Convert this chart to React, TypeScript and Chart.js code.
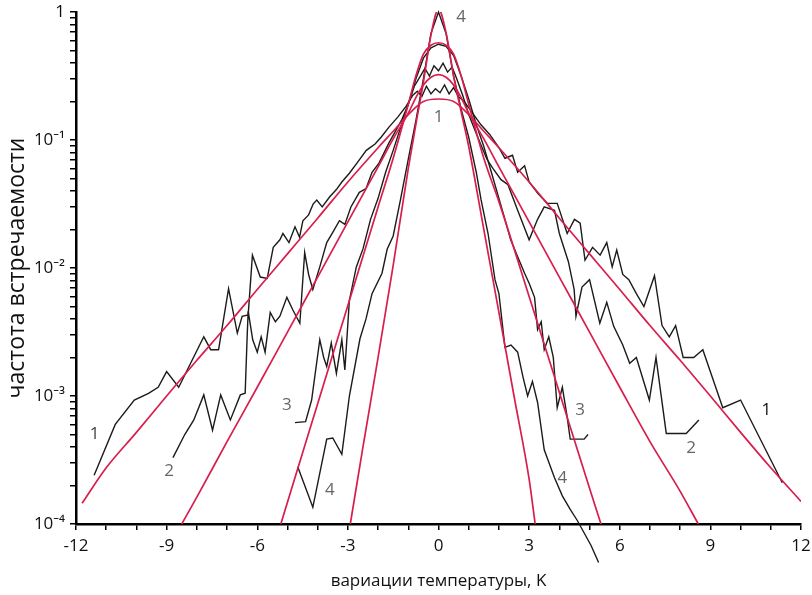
import React, { useEffect, useRef } from 'react';
import { Chart, registerables } from 'chart.js';

Chart.register(...registerables);

// ---- axis ticks ----
const xTickValues = [-12, -11, -10, -9, -8, -7, -6, -5, -4, -3, -2, -1, 0, 1, 2, 3, 4, 5, 6, 7, 8, 9, 10, 11, 12];
const xLabelValues = [-12, -9, -6, -3, 0, 3, 6, 9, 12];
const xLabelTexts = ['-12', '-9', '-6', '-3', '0', '3', '6', '9', '12'];
const yDecades = [1e-4, 1e-3, 1e-2, 1e-1];
const yMultipliers = [1, 2, 3, 4, 5, 6, 7, 8, 9];
const yLabelValues = [1e-4, 1e-3, 1e-2, 1e-1, 1];
const yLabelTexts = ['10⁻⁴', '10⁻³', '10⁻²', '10⁻¹', '1'];

// ---- fitted (red) curves ----
const red1X = [-11.8, -11, -10, -9, -8, -7, -6, -5, -4, -3, -2, -1.5, -1, -0.5, 0, 0.5, 1, 1.5, 2, 3, 4, 5, 6, 7, 8, 9, 10, 11, 12];
const red1Y = [1.45e-4, 2.75e-4, 5.2e-4, 1.0e-3, 1.9e-3, 3.55e-3, 6.8e-3, 0.0129, 0.0245, 0.047, 0.087, 0.117, 0.158, 0.2, 0.209, 0.2, 0.158, 0.117, 0.087, 0.047, 0.0245, 0.0129, 6.8e-3, 3.55e-3, 1.9e-3, 1.0e-3, 5.2e-4, 2.75e-4, 1.5e-4];

const red2X = [-8.5, -8, -7, -6, -5, -4, -3, -2, -1.5, -1, -0.75, -0.5, -0.25, 0, 0.25, 0.5, 0.75, 1, 1.5, 2, 3, 4, 5, 6, 7, 8, 8.6];
const red2Y = [1.0e-4, 1.62e-4, 4.4e-4, 1.17e-3, 3.16e-3, 8.5e-3, 0.0229, 0.0617, 0.102, 0.162, 0.214, 0.269, 0.309, 0.324, 0.309, 0.269, 0.214, 0.162, 0.102, 0.0617, 0.0229, 8.5e-3, 3.16e-3, 1.17e-3, 4.4e-4, 1.8e-4, 1.0e-4];

const red3X = [-5.22, -5, -4, -3, -2, -1.5, -1, -0.75, -0.5, -0.25, 0, 0.25, 0.5, 0.75, 1, 1.5, 2, 3, 4, 5, 5.38];
const red3Y = [1.0e-4, 1.48e-4, 8.7e-4, 5.1e-3, 0.030, 0.072, 0.19, 0.316, 0.468, 0.55, 0.575, 0.55, 0.468, 0.316, 0.19, 0.072, 0.033, 6.0e-3, 1.07e-3, 1.9e-4, 1.0e-4];

const red4X = [-2.92, -2.5, -2, -1.5, -1, -0.75, -0.5, -0.25, 0, 0.25, 0.5, 0.75, 1, 1.5, 2, 2.5, 3, 3.2];
const red4Y = [1.0e-4, 4.0e-4, 2.0e-3, 0.0105, 0.060, 0.132, 0.282, 0.66, 1.05, 0.69, 0.316, 0.166, 0.089, 0.020, 4.5e-3, 1.0e-3, 2.24e-4, 1.0e-4];

// ---- measured (black) curves ----
const black1X = [-11.4, -10.7, -10.07, -9.6, -9.28, -9.0, -8.6, -7.77, -7.54, -7.28, -6.95, -6.66, -6.5, -6.3, -6.16, -5.9, -5.67, -5.47, -5.25, -5.15, -4.95, -4.75, -4.6, -4.49, -4.3, -4.15, -4.03, -3.85, -3.6, -3.38, -3.2, -2.95, -2.7, -2.39, -2.1, -1.9, -1.64, -1.35, -1.08, -0.85, -0.7, -0.55, -0.4, -0.25, -0.1, 0.05, 0.2, 0.35, 0.5, 0.65, 0.85, 1.1, 1.4, 1.7, 2.0, 2.2, 2.45, 2.62, 2.85, 3.0, 3.3, 3.6, 3.93, 4.26, 4.5, 4.69, 4.85, 5.1, 5.35, 5.57, 5.75, 5.9, 6.1, 6.3, 6.55, 6.8, 7.15, 7.4, 7.64, 7.85, 8.1, 8.45, 8.75, 9.41, 10.0, 11.38];
const black1Y = [2.4e-4, 6.0e-4, 9.3e-4, 1.05e-3, 1.17e-3, 1.55e-3, 1.17e-3, 2.9e-3, 2.3e-3, 2.3e-3, 6.9e-3, 3.1e-3, 4.2e-3, 4.3e-3, 0.0126, 8.5e-3, 8.3e-3, 0.0145, 0.0166, 0.0186, 0.0158, 0.021, 0.0174, 0.0234, 0.026, 0.0316, 0.034, 0.030, 0.036, 0.041, 0.047, 0.055, 0.066, 0.083, 0.093, 0.105, 0.126, 0.151, 0.182, 0.224, 0.24, 0.219, 0.263, 0.229, 0.251, 0.234, 0.269, 0.229, 0.257, 0.219, 0.2, 0.166, 0.132, 0.11, 0.087, 0.072, 0.076, 0.056, 0.063, 0.047, 0.038, 0.032, 0.032, 0.0186, 0.024, 0.0224, 0.0115, 0.0145, 0.0126, 0.0158, 0.0102, 0.0138, 8.9e-3, 8.1e-3, 6.3e-3, 5.0e-3, 8.7e-3, 3.55e-3, 2.9e-3, 3.55e-3, 2.0e-3, 2.0e-3, 2.3e-3, 8.1e-4, 9.3e-4, 2.1e-4];

const black2X = [-8.79, -8.4, -8.1, -7.77, -7.48, -7.21, -6.89, -6.56, -6.4, -6.33, -6.3, -6.15, -6.0, -5.87, -5.74, -5.57, -5.4, -5.25, -5.02, -4.82, -4.59, -4.43, -4.3, -4.16, -3.93, -3.7, -3.5, -3.28, -3.1, -2.9, -2.62, -2.4, -2.2, -1.97, -1.64, -1.4, -1.21, -1.0, -0.8, -0.6, -0.45, -0.3, -0.15, 0, 0.15, 0.3, 0.45, 0.6, 0.8, 1.0, 1.3, 1.6, 1.8, 2.07, 2.3, 2.62, 3.0, 3.28, 3.5, 3.84, 4.0, 4.3, 4.49, 4.55, 4.75, 5.0, 5.34, 5.57, 5.8, 6.1, 6.33, 6.55, 6.98, 7.2, 7.54, 8.2, 8.62];
const black2Y = [3.3e-4, 5.0e-4, 6.5e-4, 1.02e-3, 5.4e-4, 1.02e-3, 6.5e-4, 1.02e-3, 1.05e-3, 3.1e-3, 4.6e-3, 2.75e-3, 2.2e-3, 2.9e-3, 2.2e-3, 4.5e-3, 3.8e-3, 4.2e-3, 5.9e-3, 4.7e-3, 3.7e-3, 0.0132, 8.9e-3, 6.8e-3, 0.0102, 0.0158, 0.019, 0.0234, 0.0219, 0.030, 0.039, 0.0417, 0.056, 0.066, 0.095, 0.12, 0.145, 0.19, 0.263, 0.316, 0.363, 0.316, 0.38, 0.347, 0.398, 0.339, 0.372, 0.302, 0.224, 0.158, 0.105, 0.071, 0.06, 0.049, 0.0447, 0.0282, 0.0166, 0.024, 0.030, 0.0282, 0.0186, 0.0112, 6.8e-3, 4.2e-3, 7.1e-3, 8.1e-3, 3.7e-3, 5.4e-3, 3.5e-3, 2.5e-3, 1.8e-3, 2.0e-3, 9.3e-4, 2.0e-3, 5.1e-4, 5.1e-4, 6.5e-4];

const black3X = [-4.75, -4.4, -4.2, -3.93, -3.8, -3.7, -3.55, -3.38, -3.2, -3.1, -2.95, -2.72, -2.5, -2.25, -2.0, -1.75, -1.5, -1.25, -1.0, -0.75, -0.5, -0.25, 0, 0.25, 0.5, 0.75, 1.0, 1.25, 1.5, 1.75, 2.0, 2.2, 2.39, 2.6, 2.85, 3.0, 3.18, 3.28, 3.4, 3.5, 3.65, 3.8, 3.93, 4.1, 4.25, 4.36, 4.82, 4.95];
const black3Y = [6.2e-4, 6.3e-4, 9.3e-4, 2.75e-3, 2.0e-3, 1.7e-3, 2.6e-3, 1.5e-3, 2.75e-3, 1.6e-3, 5.6e-3, 0.0102, 0.0141, 0.024, 0.035, 0.056, 0.083, 0.126, 0.19, 0.30, 0.436, 0.525, 0.56, 0.54, 0.457, 0.316, 0.209, 0.132, 0.089, 0.056, 0.035, 0.024, 0.0166, 0.0126, 9.1e-3, 7.6e-3, 5.9e-3, 3.3e-3, 3.8e-3, 2.3e-3, 2.9e-3, 2.0e-3, 8.1e-4, 1.17e-3, 7.1e-4, 4.6e-4, 4.6e-4, 5.0e-4];

const black4X = [-4.66, -4.16, -3.7, -3.5, -3.2, -2.95, -2.6, -2.4, -2.2, -1.87, -1.7, -1.5, -1.25, -1.0, -0.75, -0.5, -0.25, 0, 0.25, 0.5, 0.75, 1.0, 1.25, 1.41, 1.64, 1.87, 2.0, 2.2, 2.4, 2.62, 2.8, 2.95, 3.11, 3.28, 3.5, 3.84, 4.1, 4.36, 4.59, 4.8, 5.05, 5.3];
const black4Y = [2.8e-4, 1.35e-4, 4.6e-4, 4.7e-4, 3.5e-4, 1.0e-3, 2.8e-3, 4.0e-3, 6.3e-3, 9.1e-3, 0.014, 0.0178, 0.035, 0.071, 0.141, 0.30, 0.68, 1.0, 0.68, 0.316, 0.174, 0.105, 0.056, 0.034, 0.0186, 8.1e-3, 6.3e-3, 2.4e-3, 2.5e-3, 2.2e-3, 1.4e-3, 1.0e-3, 1.3e-3, 8.9e-4, 3.8e-4, 2.3e-4, 1.66e-4, 1.3e-4, 1.07e-4, 8.7e-5, 6.8e-5, 5.0e-5];

// ---- curve number labels ----
const curveLabelText = ['1', '2', '3', '4', '1', '4', '3', '4', '2', '1'];
const curveLabelX = [-11.38, -8.92, -5.02, -3.6, 0, 0.75, 4.69, 4.1, 8.36, 10.85];
const curveLabelY = [5.0e-4, 2.6e-4, 8.5e-4, 1.85e-4, 0.151, 0.91, 7.8e-4, 2.3e-4, 3.9e-4, 7.8e-4];
const curveLabelColor = ['#444', '#666', '#666', '#666', '#666', '#666', '#666', '#666', '#666', '#111'];

const FONT = '"Open Sans", "Noto Sans", "DejaVu Sans", sans-serif';

const zip = (xs: number[], ys: number[]) =>
  xs.slice(0, Math.min(xs.length, ys.length)).map((x, i) => ({ x, y: ys[i] }));

export default function App() {
  const ref = useRef<HTMLCanvasElement>(null);

  useEffect(() => {
    document.body.style.margin = '0';
    const canvas = ref.current;
    if (!canvas) return;

    const yTickValues = [...yDecades.flatMap((d) => yMultipliers.map((m) => d * m)), 1];

    const labelPlugin = {
      id: 'curveLabels',
      afterDatasetsDraw(chart: any) {
        const { ctx, scales } = chart;
        ctx.save();
        ctx.font = `17px ${FONT}`;
        ctx.textAlign = 'center';
        ctx.textBaseline = 'middle';
        curveLabelText.forEach((t, i) => {
          ctx.fillStyle = curveLabelColor[i];
          ctx.fillText(t, scales.x.getPixelForValue(curveLabelX[i]), scales.y.getPixelForValue(curveLabelY[i]));
        });
        ctx.restore();
      },
    };

    const black = (xs: number[], ys: number[], extra: any = {}) => ({
      data: zip(xs, ys),
      borderColor: '#1e1a1a',
      borderWidth: 1.4,
      pointRadius: 0,
      tension: 0,
      fill: false,
      ...extra,
    });
    const red = (xs: number[], ys: number[]) => ({
      data: zip(xs, ys),
      borderColor: '#d81e4c',
      borderWidth: 1.7,
      pointRadius: 0,
      cubicInterpolationMode: 'monotone',
      fill: false,
    });

    const chart = new Chart(canvas, {
      type: 'line',
      data: {
        datasets: [
          red(red1X, red1Y),
          red(red2X, red2Y),
          red(red3X, red3Y),
          red(red4X, red4Y),
          black(black1X, black1Y),
          black(black2X, black2Y),
          black(black3X, black3Y),
          black(black4X, black4Y, { clip: false }),
        ] as any,
      },
      options: {
        responsive: false,
        animation: false,
        devicePixelRatio: 1,
        layout: { padding: { left: 0, right: 11, top: 12, bottom: 0 } },
        plugins: { legend: { display: false }, tooltip: { enabled: false } },
        scales: {
          x: {
            type: 'linear',
            min: -12,
            max: 12,
            afterBuildTicks: (s: any) => {
              s.ticks = xTickValues.map((v) => ({ value: v }));
            },
            afterFit: (s: any) => {
              s.height = 71;
              s.paddingLeft = 0;
              s.paddingRight = 0;
            },
            ticks: {
              autoSkip: false,
              maxRotation: 0,
              padding: 6,
              color: '#111',
              font: { family: FONT, size: 17 },
              callback: (v: any) => {
                const i = xLabelValues.indexOf(Number(v));
                return i >= 0 ? xLabelTexts[i] : '';
              },
            },
            grid: { drawOnChartArea: false, drawTicks: true, tickLength: 6, color: '#000', lineWidth: 1.5 },
            border: { display: true, color: '#000', width: 2.5 },
            title: {
              display: true,
              text: 'вариации температуры, K',
              color: '#111',
              font: { family: FONT, size: 17 },
              padding: { top: 0, bottom: 4 },
            },
          },
          y: {
            type: 'logarithmic',
            min: 1e-4,
            max: 1,
            afterBuildTicks: (s: any) => {
              s.ticks = yTickValues.map((v) => ({ value: v }));
            },
            afterFit: (s: any) => {
              s.width = 76;
              s.paddingTop = 0;
              s.paddingBottom = 0;
            },
            ticks: {
              autoSkip: false,
              padding: 5,
              color: '#111',
              font: { family: FONT, size: 17 },
              callback: (v: any) => {
                const n = Number(v);
                const i = yLabelValues.findIndex((l) => Math.abs(l - n) / l < 1e-6);
                return i >= 0 ? yLabelTexts[i] : '';
              },
            },
            grid: { drawOnChartArea: false, drawTicks: true, tickLength: 6, color: '#000', lineWidth: 1.5 },
            border: { display: true, color: '#000', width: 2.5 },
            title: {
              display: true,
              text: 'частота встречаемости',
              color: '#111',
              font: { family: FONT, size: 23 },
              padding: { top: 4, bottom: 0 },
            },
          },
        },
      } as any,
      plugins: [labelPlugin],
    });

    return () => chart.destroy();
  }, []);

  return (
    <div style={{ width: 812, height: 595, background: '#fff' }}>
      <canvas ref={ref} width={812} height={595} />
    </div>
  );
}
